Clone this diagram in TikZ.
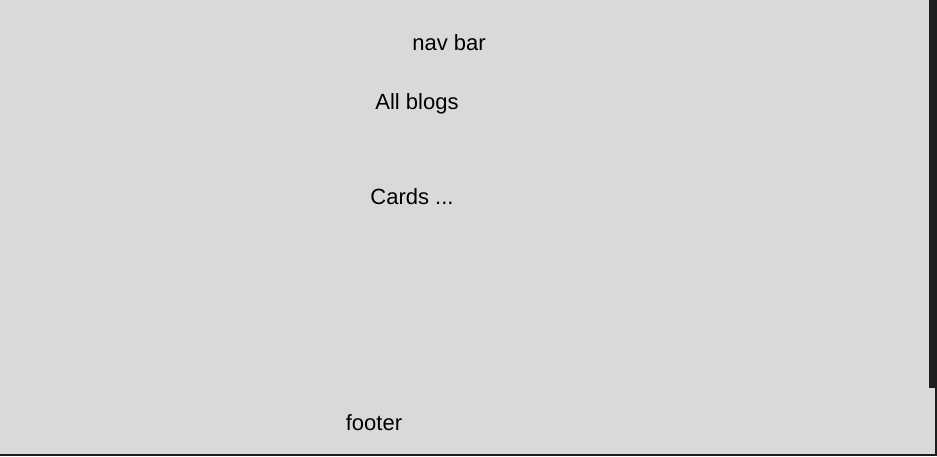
\documentclass[tikz,border=0pt]{standalone}
\usepackage{fontspec}
\setmainfont{Liberation Sans}
\definecolor{bgdark}{HTML}{1E1E1E}
\definecolor{panel}{HTML}{D9D9D9}
\begin{document}
\begin{tikzpicture}[x=1pt,y=-1pt,
  lbl/.style={font=\fontsize{22}{26}\selectfont, text=black, inner sep=0pt}]
\fill[bgdark] (0,0) rectangle (937,456);
\useasboundingbox (0,0) rectangle (937,456);
\fill[panel] (0,0) rectangle (935,454);
\fill[bgdark] (929,0) rectangle (937,388);
\node[lbl] (nav) at (449,43) {nav bar};
\node[lbl] (all) at (417,104) {All blogs};
\node[lbl] (cards) at (412,197) {Cards ...};
\node[lbl] (footer) at (374,423) {footer};
\end{tikzpicture}
\end{document}
